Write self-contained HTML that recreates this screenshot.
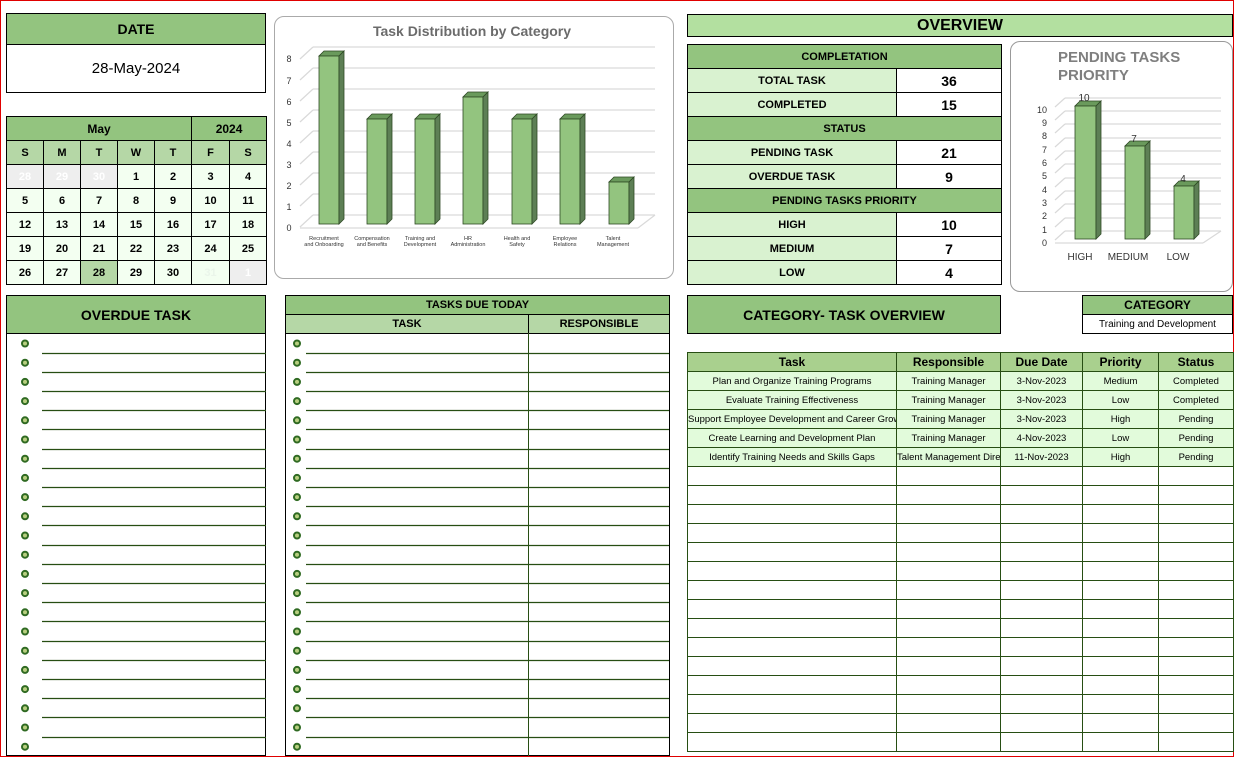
<!DOCTYPE html>
<html><head><meta charset="utf-8"><style>
*{box-sizing:border-box;margin:0;padding:0}
body{width:1234px;height:757px;position:relative;background:#fff;font-family:"Liberation Sans",Arial,sans-serif;overflow:hidden}
.a{position:absolute}
.frame{left:0;top:0;width:1234px;height:757px;border:1px solid #e00000}
.c{display:flex;align-items:center;justify-content:center;text-align:center}
.g{background:#93c47f}
.bb{border:1px solid #000}
table{border-collapse:collapse;position:absolute;table-layout:fixed}
td{padding:0;text-align:center;overflow:hidden;white-space:nowrap}
.cal td{border:1px solid #000;font-size:11px;font-weight:bold;height:24px;background:#f3fff1}
.ov td{border:1px solid #000;height:24px;font-weight:bold}
.ct td{border:1px solid #274e13;height:19px;font-size:9.5px}
</style></head><body>
<div class="a frame"></div>

<div class="a bb g c" style="left:6px;top:13px;width:260px;height:32px;font-weight:bold;font-size:14px">DATE</div>
<div class="a bb c" style="left:6px;top:44px;width:260px;height:49px;font-size:15px;border-top:none">28-May-2024</div>

<table class="cal" style="left:6px;top:116px;width:260px">
<colgroup><col style="width:37px"><col style="width:37px"><col style="width:37px"><col style="width:37px"><col style="width:37px"><col style="width:38px"><col style="width:37px"></colgroup>
<tr><td colspan="5" style="background:#93c47f;font-size:12px;height:24px">May</td><td colspan="2" style="background:#93c47f;font-size:12px">2024</td></tr>
<tr><td style="background:#b5d7a6">S</td><td style="background:#b5d7a6">M</td><td style="background:#b5d7a6">T</td><td style="background:#b5d7a6">W</td><td style="background:#b5d7a6">T</td><td style="background:#b5d7a6">F</td><td style="background:#b5d7a6">S</td></tr>
<tr><td style="background:#eee;color:#fff">28</td><td style="background:#eee;color:#fff">29</td><td style="background:#eee;color:#fff">30</td><td>1</td><td>2</td><td>3</td><td>4</td></tr>
<tr><td>5</td><td>6</td><td>7</td><td>8</td><td>9</td><td>10</td><td>11</td></tr>
<tr><td>12</td><td>13</td><td>14</td><td>15</td><td>16</td><td>17</td><td>18</td></tr>
<tr><td>19</td><td>20</td><td>21</td><td>22</td><td>23</td><td>24</td><td>25</td></tr>
<tr><td>26</td><td>27</td><td style="background:#b5d7a6">28</td><td>29</td><td>30</td><td style="color:#eaf5ea">31</td><td style="background:#eee;color:#fff">1</td></tr>
</table>

<div class="a" style="left:274px;top:16px;width:400px;height:263px;border:1px solid #aaa;border-radius:10px"></div>
<svg class="a" style="left:0;top:0" width="1234" height="757">
<text x="472" y="36" text-anchor="middle" font-family="Liberation Sans" font-weight="bold" font-size="14" fill="#6b6b6b">Task Distribution  by Category</text>
<g stroke="#d9d9d9" stroke-width="1.2" fill="none">
<line x1="313" y1="215" x2="655" y2="215"/><line x1="313" y1="194" x2="655" y2="194"/><line x1="313" y1="173" x2="655" y2="173"/><line x1="313" y1="152" x2="655" y2="152"/><line x1="313" y1="131" x2="655" y2="131"/><line x1="313" y1="110" x2="655" y2="110"/><line x1="313" y1="89" x2="655" y2="89"/><line x1="313" y1="68" x2="655" y2="68"/><line x1="313" y1="47" x2="655" y2="47"/>
<line x1="300" y1="227" x2="313" y2="215"/><line x1="300" y1="206" x2="313" y2="194"/><line x1="300" y1="185" x2="313" y2="173"/><line x1="300" y1="164" x2="313" y2="152"/><line x1="300" y1="143" x2="313" y2="131"/><line x1="300" y1="122" x2="313" y2="110"/><line x1="300" y1="101" x2="313" y2="89"/><line x1="300" y1="80" x2="313" y2="68"/><line x1="300" y1="59" x2="313" y2="47"/>
<line x1="300" y1="228" x2="638" y2="228"/><line x1="638" y1="228" x2="655" y2="215"/>
</g>
<g font-family="Liberation Sans" font-size="9" fill="#333" text-anchor="middle">
<text x="289" y="231">0</text><text x="289" y="210">1</text><text x="289" y="189">2</text><text x="289" y="168">3</text><text x="289" y="147">4</text><text x="289" y="126">5</text><text x="289" y="105">6</text><text x="289" y="84">7</text><text x="289" y="62">8</text>
</g>
<g stroke="#2f4a25" stroke-width="0.8">
<polygon points="319,56 339,56 344,51 324,51" fill="#6a9a5c"/><rect x="319" y="56" width="20" height="168" fill="#93c47f"/><polygon points="339,56 344,51 344,219 339,224" fill="#5d7f55"/>
<polygon points="367,119 387,119 392,114 372,114" fill="#6a9a5c"/><rect x="367" y="119" width="20" height="105" fill="#93c47f"/><polygon points="387,119 392,114 392,219 387,224" fill="#5d7f55"/>
<polygon points="415,119 435,119 440,114 420,114" fill="#6a9a5c"/><rect x="415" y="119" width="20" height="105" fill="#93c47f"/><polygon points="435,119 440,114 440,219 435,224" fill="#5d7f55"/>
<polygon points="463,97 483,97 488,92 468,92" fill="#6a9a5c"/><rect x="463" y="97" width="20" height="127" fill="#93c47f"/><polygon points="483,97 488,92 488,219 483,224" fill="#5d7f55"/>
<polygon points="512,119 532,119 537,114 517,114" fill="#6a9a5c"/><rect x="512" y="119" width="20" height="105" fill="#93c47f"/><polygon points="532,119 537,114 537,219 532,224" fill="#5d7f55"/>
<polygon points="560,119 580,119 585,114 565,114" fill="#6a9a5c"/><rect x="560" y="119" width="20" height="105" fill="#93c47f"/><polygon points="580,119 585,114 585,219 580,224" fill="#5d7f55"/>
<polygon points="609,182 629,182 634,177 614,177" fill="#6a9a5c"/><rect x="609" y="182" width="20" height="42" fill="#93c47f"/><polygon points="629,182 634,177 634,219 629,224" fill="#5d7f55"/>
</g>
<g font-family="Liberation Sans" font-size="5.5" fill="#333" text-anchor="middle">
<text x="324" y="240">Recruitment</text><text x="324" y="246">and Onboarding</text>
<text x="372" y="240">Compensation</text><text x="372" y="246">and Benefits</text>
<text x="420" y="240">Training and</text><text x="420" y="246">Development</text>
<text x="468" y="240">HR</text><text x="468" y="246">Administration</text>
<text x="517" y="240">Health and</text><text x="517" y="246">Safety</text>
<text x="565" y="240">Employee</text><text x="565" y="246">Relations</text>
<text x="613" y="240">Talent</text><text x="613" y="246">Management</text>
</g>

<text x="1058" y="62" font-family="Liberation Sans" font-weight="bold" font-size="15" fill="#7f7f7f">PENDING TASKS</text>
<text x="1058" y="80" font-family="Liberation Sans" font-weight="bold" font-size="15" fill="#7f7f7f">PRIORITY</text>
<g stroke="#d9d9d9" stroke-width="1.2" fill="none">
<line x1="1065" y1="231" x2="1221" y2="231"/><line x1="1065" y1="218" x2="1221" y2="218"/><line x1="1065" y1="204" x2="1221" y2="204"/><line x1="1065" y1="191" x2="1221" y2="191"/><line x1="1065" y1="178" x2="1221" y2="178"/><line x1="1065" y1="164" x2="1221" y2="164"/><line x1="1065" y1="151" x2="1221" y2="151"/><line x1="1065" y1="138" x2="1221" y2="138"/><line x1="1065" y1="124" x2="1221" y2="124"/><line x1="1065" y1="111" x2="1221" y2="111"/><line x1="1065" y1="98" x2="1221" y2="98"/>
<line x1="1055" y1="240" x2="1065" y2="231"/><line x1="1055" y1="227" x2="1065" y2="218"/><line x1="1055" y1="213" x2="1065" y2="204"/><line x1="1055" y1="200" x2="1065" y2="191"/><line x1="1055" y1="187" x2="1065" y2="178"/><line x1="1055" y1="173" x2="1065" y2="164"/><line x1="1055" y1="160" x2="1065" y2="151"/><line x1="1055" y1="147" x2="1065" y2="138"/><line x1="1055" y1="133" x2="1065" y2="124"/><line x1="1055" y1="120" x2="1065" y2="111"/><line x1="1055" y1="107" x2="1065" y2="98"/>
<line x1="1055" y1="243" x2="1203" y2="243"/><line x1="1203" y1="243" x2="1221" y2="231"/>
</g>
<g font-family="Liberation Sans" font-size="9" fill="#333" text-anchor="end">
<text x="1047" y="246">0</text><text x="1047" y="233">1</text><text x="1047" y="219">2</text><text x="1047" y="206">3</text><text x="1047" y="193">4</text><text x="1047" y="179">5</text><text x="1047" y="166">6</text><text x="1047" y="153">7</text><text x="1047" y="139">8</text><text x="1047" y="126">9</text><text x="1047" y="113">10</text>
</g>
<g stroke="#2f4a25" stroke-width="0.8">
<polygon points="1075,106 1096,106 1101,101 1080,101" fill="#6a9a5c"/><rect x="1075" y="106" width="21" height="133" fill="#93c47f"/><polygon points="1096,106 1101,101 1101,234 1096,239" fill="#5d7f55"/>
<polygon points="1125,146 1145,146 1150,141 1130,141" fill="#6a9a5c"/><rect x="1125" y="146" width="20" height="93" fill="#93c47f"/><polygon points="1145,146 1150,141 1150,234 1145,239" fill="#5d7f55"/>
<polygon points="1174,186 1194,186 1199,181 1179,181" fill="#6a9a5c"/><rect x="1174" y="186" width="20" height="53" fill="#93c47f"/><polygon points="1194,186 1199,181 1199,234 1194,239" fill="#5d7f55"/>
</g>
<g font-family="Liberation Sans" font-size="10" fill="#333" text-anchor="middle">
<text x="1084" y="101">10</text><text x="1134" y="142">7</text><text x="1183" y="182">4</text>
<text x="1080" y="260">HIGH</text><text x="1128" y="260">MEDIUM</text><text x="1178" y="260">LOW</text>
</g>
</svg>
<div class="a" style="left:1010px;top:41px;width:223px;height:251px;border:1px solid #999;border-radius:10px"></div>

<div class="a bb c" style="left:687px;top:14px;width:546px;height:23px;background:#b3e0a0;font-weight:bold;font-size:16px">OVERVIEW</div>
<table class="ov" style="left:687px;top:44px;width:314px">
<colgroup><col style="width:209px"><col style="width:105px"></colgroup>
<tr><td colspan="2" style="background:#93c47f;font-size:11px">COMPLETATION</td></tr>
<tr><td style="background:#d9f2d0;font-size:11px">TOTAL TASK</td><td style="font-size:14px">36</td></tr>
<tr><td style="background:#d9f2d0;font-size:11px">COMPLETED</td><td style="font-size:14px">15</td></tr>
<tr><td colspan="2" style="background:#93c47f;font-size:11px">STATUS</td></tr>
<tr><td style="background:#d9f2d0;font-size:11px">PENDING TASK</td><td style="font-size:14px">21</td></tr>
<tr><td style="background:#d9f2d0;font-size:11px">OVERDUE TASK</td><td style="font-size:14px">9</td></tr>
<tr><td colspan="2" style="background:#93c47f;font-size:11px">PENDING TASKS PRIORITY</td></tr>
<tr><td style="background:#d9f2d0;font-size:11px">HIGH</td><td style="font-size:14px">10</td></tr>
<tr><td style="background:#d9f2d0;font-size:11px">MEDIUM</td><td style="font-size:14px">7</td></tr>
<tr><td style="background:#d9f2d0;font-size:11px">LOW</td><td style="font-size:14px">4</td></tr>
</table>

<div class="a bb g c" style="left:6px;top:295px;width:260px;height:39px;font-weight:bold;font-size:14px">OVERDUE TASK</div>
<div class="a" style="left:6px;top:333px;width:260px;height:423px;border:1px solid #000;border-top:none"></div>

<div class="a bb g c" style="left:285px;top:295px;width:385px;height:20px;font-weight:bold;font-size:11px">TASKS DUE TODAY</div>
<div class="a c" style="left:285px;top:314px;width:244px;height:20px;background:#b5d7a6;border:1px solid #000;font-weight:bold;font-size:11px">TASK</div>
<div class="a c" style="left:528px;top:314px;width:142px;height:20px;background:#b5d7a6;border:1px solid #000;font-weight:bold;font-size:11px">RESPONSIBLE</div>
<div class="a" style="left:285px;top:333px;width:385px;height:423px;border:1px solid #000;border-top:none"></div>

<div class="a bb g c" style="left:687px;top:295px;width:314px;height:39px;font-weight:bold;font-size:14px">CATEGORY- TASK OVERVIEW</div>
<div class="a bb g c" style="left:1082px;top:295px;width:151px;height:20px;font-weight:bold;font-size:12px">CATEGORY</div>
<div class="a bb c" style="left:1082px;top:314px;width:151px;height:20px;font-size:10px">Training and Development</div>

<table class="ct" style="left:687px;top:352px;width:546px">
<colgroup><col style="width:209px"><col style="width:104px"><col style="width:82px"><col style="width:76px"><col style="width:75px"></colgroup>
<tr style="background:#a9d08e"><td style="font-size:12px;font-weight:bold">Task</td><td style="font-size:12px;font-weight:bold">Responsible</td><td style="font-size:12px;font-weight:bold">Due Date</td><td style="font-size:12px;font-weight:bold">Priority</td><td style="font-size:12px;font-weight:bold">Status</td></tr>
<tr style="background:#e2fbdb"><td>Plan and Organize Training Programs</td><td>Training Manager</td><td>3-Nov-2023</td><td>Medium</td><td>Completed</td></tr>
<tr style="background:#e2fbdb"><td>Evaluate Training Effectiveness</td><td>Training Manager</td><td>3-Nov-2023</td><td>Low</td><td>Completed</td></tr>
<tr style="background:#e2fbdb"><td style="text-align:left">Support Employee Development and Career Growth</td><td>Training Manager</td><td>3-Nov-2023</td><td>High</td><td>Pending</td></tr>
<tr style="background:#e2fbdb"><td>Create Learning and Development Plan</td><td>Training Manager</td><td>4-Nov-2023</td><td>Low</td><td>Pending</td></tr>
<tr style="background:#e2fbdb"><td>Identify Training Needs and Skills Gaps</td><td style="text-align:right">Talent Management Director</td><td>11-Nov-2023</td><td>High</td><td>Pending</td></tr>
<tr><td></td><td></td><td></td><td></td><td></td></tr><tr><td></td><td></td><td></td><td></td><td></td></tr><tr><td></td><td></td><td></td><td></td><td></td></tr><tr><td></td><td></td><td></td><td></td><td></td></tr><tr><td></td><td></td><td></td><td></td><td></td></tr><tr><td></td><td></td><td></td><td></td><td></td></tr><tr><td></td><td></td><td></td><td></td><td></td></tr><tr><td></td><td></td><td></td><td></td><td></td></tr><tr><td></td><td></td><td></td><td></td><td></td></tr><tr><td></td><td></td><td></td><td></td><td></td></tr><tr><td></td><td></td><td></td><td></td><td></td></tr><tr><td></td><td></td><td></td><td></td><td></td></tr><tr><td></td><td></td><td></td><td></td><td></td></tr><tr><td></td><td></td><td></td><td></td><td></td></tr><tr><td></td><td></td><td></td><td></td><td></td></tr>
</table>

<svg class="a" style="left:0;top:0" width="1234" height="757">
<g id="lines" stroke="#274e13" stroke-width="1.3"></g>
<g id="icons"></g>
<line x1="528.5" y1="333" x2="528.5" y2="756" stroke="#274e13" stroke-width="1"/>
</svg>
<script>
var L=document.getElementById('lines'),I=document.getElementById('icons'),s='';var ic='';
for(var i=0;i<22;i++){var y=334+i*19.2;var ly=Math.round(y+18.5)+0.5;
if(i<21){s+='<line x1="42" y1="'+ly+'" x2="266" y2="'+ly+'"/><line x1="306" y1="'+ly+'" x2="669" y2="'+ly+'"/>';}
var cy=y+9.5;ic+='<circle cx="25" cy="'+cy+'" r="3" fill="#b8cf80" stroke="#2f6a22" stroke-width="2"/><circle cx="297" cy="'+cy+'" r="3" fill="#b8cf80" stroke="#2f6a22" stroke-width="2"/>';}
L.innerHTML=s;I.innerHTML=ic;
</script>
</body></html>
